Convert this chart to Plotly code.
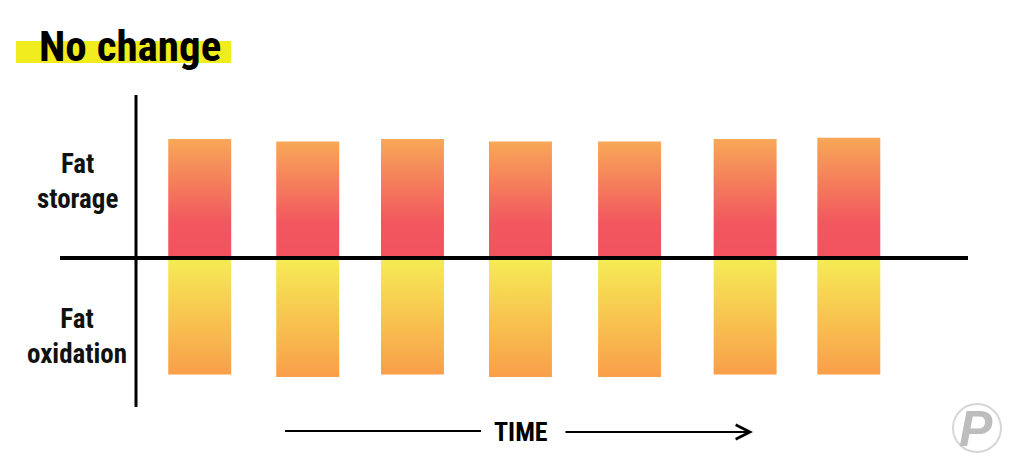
import plotly.graph_objects as go

# ---- data ----
time_pos = [0.59, 1.59, 2.56, 3.56, 4.57, 5.64, 6.60]      # bar centres along time axis
fat_storage = [1.00, 0.98, 1.00, 0.98, 0.98, 1.00, 1.01]    # upward bars
fat_oxidation = [0.98, 1.00, 0.98, 1.00, 1.00, 0.98, 0.98]  # downward bars
bar_width = 0.583

W, H = 1024, 465
OFF = 8                  # page body margin
X0PX, XS = 136, 108      # pixel of x=0, px per unit
Y0PX, YS = 258, 119      # pixel of y=0, px per unit

def px(x):
    return (x - OFF) / W

def py(y):
    return 1 - (y - OFF) / H

fig = go.Figure()

up_scale = [[0, '#F2535F'], [0.3, '#F2575F'], [1, '#F8A857']]
down_scale = [[0, '#F99E4A'], [1, '#F6EC55']]

for t, s, o in zip(time_pos, fat_storage, fat_oxidation):
    xl, xr = t - bar_width / 2, t + bar_width / 2
    fig.add_trace(go.Scatter(
        x=[xl, xr, xr, xl, xl], y=[0, 0, s, s, 0], fill='toself', mode='lines',
        line=dict(width=0), fillgradient=dict(type='vertical', colorscale=up_scale),
        hoverinfo='skip', showlegend=False))
    fig.add_trace(go.Scatter(
        x=[xl, xr, xr, xl, xl], y=[0, 0, -o, -o, 0], fill='toself', mode='lines',
        line=dict(width=0), fillgradient=dict(type='vertical', colorscale=down_scale),
        hoverinfo='skip', showlegend=False))

shapes = [
    # title highlight
    dict(type='rect', xref='paper', yref='paper', x0=px(16), x1=px(231), y0=py(63), y1=py(41),
         fillcolor='#F1EC1E', line=dict(width=0), layer='below'),
    # vertical axis
    dict(type='line', xref='x', yref='y', x0=0, x1=0, y0=(Y0PX - 95) / YS, y1=(Y0PX - 407) / YS,
         line=dict(color='black', width=3)),
    # horizontal axis
    dict(type='line', xref='x', yref='y', x0=(60 - X0PX) / XS, x1=(968 - X0PX) / XS, y0=0, y1=0,
         line=dict(color='black', width=4)),
    # time line left
    dict(type='line', xref='paper', yref='paper', x0=px(285), x1=px(481), y0=py(431), y1=py(431),
         line=dict(color='black', width=2)),
    # logo circle
    dict(type='circle', xref='paper', yref='paper', x0=px(953), x1=px(1001), y0=py(452), y1=py(404),
         line=dict(color='#D6D6D6', width=2)),
]

COND = 'Roboto Condensed, Open Sans Condensed, DejaVu Sans Condensed, sans-serif'
label_font = dict(family=COND, size=27, color='#111111', weight='bold')

annotations = [
    dict(text='No change', xref='paper', yref='paper', x=px(37), y=py(46), xanchor='left',
         yanchor='middle', showarrow=False,
         font=dict(family=COND, size=43, color='black', weight='bold')),
    dict(text='Fat<br>storage', xref='paper', yref='paper', x=px(77), y=py(181), xanchor='center',
         yanchor='middle', showarrow=False, font=label_font),
    dict(text='Fat<br>oxidation', xref='paper', yref='paper', x=px(77), y=py(336), xanchor='center',
         yanchor='middle', showarrow=False, font=label_font),
    dict(text='TIME', xref='paper', yref='paper', x=px(521), y=py(432), xanchor='center',
         yanchor='middle', showarrow=False,
         font=dict(family=COND, size=26, color='black', weight='bold')),
    # time arrow right
    dict(text='', xref='paper', yref='paper', x=px(753), y=py(432), ax=564 - 753, ay=0,
         axref='pixel', ayref='pixel', showarrow=True, arrowhead=5, arrowsize=1.4,
         arrowwidth=2, arrowcolor='black'),
    # logo P
    dict(text='<b><i>P</i></b>', xref='paper', yref='paper', x=px(976), y=py(429), xanchor='center',
         yanchor='middle', showarrow=False,
         font=dict(family='Liberation Sans, sans-serif', size=50, color='#BDBDBD')),
]

fig.update_layout(
    width=W, height=H,
    margin=dict(l=0, r=0, t=0, b=0),
    paper_bgcolor='white', plot_bgcolor='white',
    xaxis=dict(range=[-(X0PX - OFF) / XS, (W - (X0PX - OFF)) / XS], visible=False, fixedrange=True),
    yaxis=dict(range=[-(H - (Y0PX - OFF)) / YS, (Y0PX - OFF) / YS], visible=False, fixedrange=True),
    shapes=shapes, annotations=annotations, showlegend=False,
)

fig.write_html('out.html', config={'displayModeBar': False})
